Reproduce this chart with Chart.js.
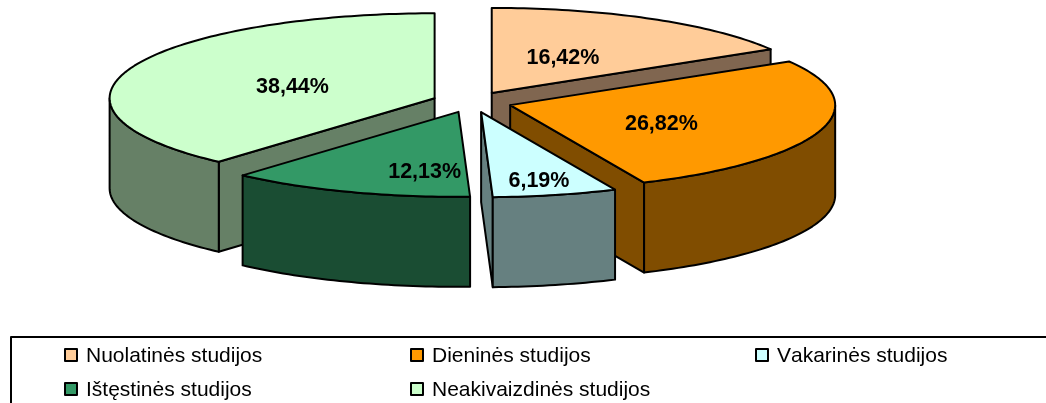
<!DOCTYPE html>
<html>
<head>
<meta charset="utf-8">
<style>html,body{margin:0;padding:0;background:#fff;overflow:hidden}canvas{display:block}</style>
<script src="https://cdn.jsdelivr.net/npm/chart.js@4/dist/chart.umd.min.js"></script>
</head>
<body>
<canvas id="c" width="1046" height="403"></canvas>
<script>
const categories = ['Nuolatinės studijos', 'Dieninės studijos', 'Vakarinės studijos', 'Ištęstinės studijos', 'Neakivaizdinės studijos'];
const shares = [16.42, 26.82, 6.19, 12.13, 38.44];
const topColours = ['#FFCC99', '#FF9900', '#CCFFFF', '#339966', '#CCFFCC'];
const wallColours = ['#806650', '#804D00', '#668080', '#1A4D33', '#668066'];
// where each value label sits inside its slice: share of the sweep, share of the radius
const labelAlong = [0.47, 0.57, 0.53, 0.24, 0.48];
const labelRadial = [0.47, 0.51, 0.82, 0.71, 0.46];

const EXPLODE = 10.46, DEPTH = 90, FONT = '"Liberation Sans", Arial, sans-serif';

const pie3d = {
  id: 'pie3d',
  beforeDatasetsDraw(chart) {
    const ctx = chart.ctx;
    const sx = chart.chartArea.width / chart.chartArea.height;
    const arcs = chart.getDatasetMeta(0).data.map((arc, i) => {
      const p = arc.getProps(['x', 'y', 'startAngle', 'endAngle', 'outerRadius'], true);
      const mid = (p.startAngle + p.endAngle) / 2;
      const ex = EXPLODE * Math.cos(mid), ey = EXPLODE * Math.sin(mid);
      const pt = (a, r) => [p.x + sx * (ex + r * Math.cos(a)), p.y + ey + r * Math.sin(a)];
      return { arc, i, p, mid, ey, ex, pt };
    }).sort((a, b) => Math.sin(a.mid) - Math.sin(b.mid));

    const strokeFill = (build, fill) => {
      ctx.beginPath(); build(); ctx.closePath();
      if (fill) { ctx.fillStyle = fill; ctx.fill(); }
      ctx.strokeStyle = '#000'; ctx.lineWidth = 2; ctx.lineJoin = 'round'; ctx.stroke();
    };
    const arcPts = (s, a0, a1, dy) => {
      const n = Math.max(2, Math.ceil((a1 - a0) / 0.02));
      const out = [];
      for (let k = 0; k <= n; k++) {
        const q = s.pt(a0 + (a1 - a0) * k / n, s.p.outerRadius);
        out.push([q[0], q[1] + dy]);
      }
      return out;
    };

    arcs.forEach(s => {
      const { p, i, pt } = s, R = p.outerRadius, wall = wallColours[i];
      const apex = pt(0, 0);
      // radial cut faces that look towards the viewer
      const face = a => {
        const e = pt(a, R);
        strokeFill(() => {
          ctx.moveTo(apex[0], apex[1]); ctx.lineTo(e[0], e[1]);
          ctx.lineTo(e[0], e[1] + DEPTH); ctx.lineTo(apex[0], apex[1] + DEPTH);
        }, wall);
      };
      // start edge visible when it points to the left half of the ellipse
      if (Math.cos(p.startAngle) < -1e-6) face(p.startAngle);
      // end edge visible when it points to the right half of the ellipse
      if (Math.cos(p.endAngle) > 1e-6) face(p.endAngle);
      // outer wall: only the part of the rim in the front half (0..PI in canvas angle)
      const lo = Math.max(p.startAngle, 0), hi = Math.min(p.endAngle, Math.PI);
      if (hi > lo) {
        const rim = arcPts(s, lo, hi, 0), low = arcPts(s, lo, hi, DEPTH).reverse();
        strokeFill(() => {
          rim.concat(low).forEach((q, k) => k ? ctx.lineTo(q[0], q[1]) : ctx.moveTo(q[0], q[1]));
        }, wall);
      }
      // top face: the library's own arc element, stretched into an ellipse
      ctx.save();
      ctx.translate(p.x, p.y);
      ctx.scale(sx, 1);
      ctx.translate(-p.x + s.ex, -p.y + s.ey);
      s.arc.draw(ctx);
      ctx.restore();
      const top = arcPts(s, p.startAngle, p.endAngle, 0);
      strokeFill(() => {
        ctx.moveTo(apex[0], apex[1]);
        top.forEach(q => ctx.lineTo(q[0], q[1]));
      }, null);
    });

    // value labels
    ctx.fillStyle = '#000';
    ctx.font = 'bold 21.5px ' + FONT;
    ctx.textAlign = 'center';
    ctx.textBaseline = 'middle';
    arcs.forEach(s => {
      const { p, i } = s;
      const a = p.startAngle + (p.endAngle - p.startAngle) * labelAlong[i];
      const q = s.pt(a, p.outerRadius * labelRadial[i]);
      ctx.fillText(shares[i].toFixed(2).replace('.', ',') + '%', q[0], q[1] + 1);
    });

    // legend
    const cols = [64, 410, 755], rows = [348, 382];
    ctx.strokeStyle = '#000'; ctx.lineWidth = 2;
    ctx.strokeRect(11, 337, 1100, 120);
    ctx.font = '21px ' + FONT;
    ctx.fontKerning = 'none';
    ctx.textAlign = 'left';
    ctx.textBaseline = 'alphabetic';
    categories.forEach((name, i) => {
      const x = cols[i % 3], y = rows[Math.floor(i / 3)];
      ctx.fillStyle = topColours[i];
      ctx.fillRect(x + 1, y + 1, 12, 12);
      ctx.strokeStyle = '#000'; ctx.lineWidth = 2;
      ctx.strokeRect(x + 1, y + 1, 12, 12);
      ctx.fillStyle = '#000';
      ctx.fillText(name, x + 22, y + 14);
    });
    return false;
  }
};

new Chart(document.getElementById('c'), {
  type: 'pie',
  data: {
    labels: categories,
    datasets: [{ data: shares, backgroundColor: topColours, borderWidth: 0, hoverOffset: 0 }]
  },
  options: {
    responsive: false,
    animation: false,
    rotation: 0,
    layout: { padding: { left: 147, right: 249, top: 17, bottom: 216 } },
    plugins: { legend: { display: false }, tooltip: { enabled: false } }
  },
  plugins: [pie3d]
});
</script>
</body>
</html>
